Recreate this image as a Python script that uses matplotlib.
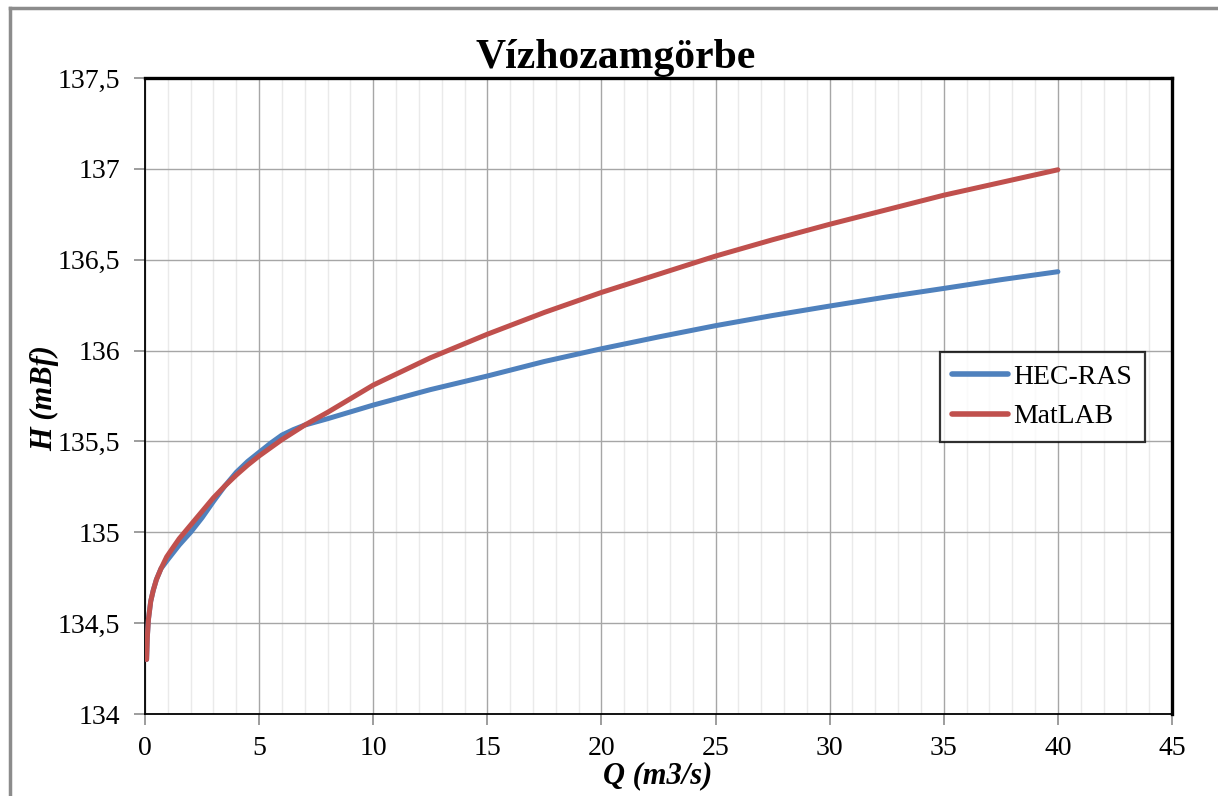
import matplotlib
matplotlib.use("Agg")
import matplotlib.pyplot as plt
from matplotlib.lines import Line2D
from matplotlib.ticker import MultipleLocator, FuncFormatter

# ---- data ----
q_matlab = [0.07, 0.1, 0.15, 0.25, 0.36, 0.5, 0.7, 0.95, 1.25, 1.5, 2, 2.5,
            3, 3.5, 4, 4.5, 5, 5.5, 6, 6.5, 7, 8, 9, 10, 11, 12.5, 15, 17.5,
            20, 22.5, 25, 27.5, 30, 32.5, 35, 37.5, 40]
h_matlab = [134.30, 134.42, 134.52, 134.62, 134.68, 134.74, 134.80, 134.865,
            134.92, 134.965, 135.04, 135.115, 135.19, 135.255, 135.315,
            135.37, 135.42, 135.465, 135.51, 135.55, 135.59, 135.66, 135.735,
            135.81, 135.87, 135.96, 136.09, 136.21, 136.32, 136.42, 136.52,
            136.61, 136.695, 136.775, 136.855, 136.925, 136.995]

q_hecras = [0.07, 0.1, 0.15, 0.25, 0.36, 0.5, 0.7, 1.0, 1.5, 2, 2.5, 3, 3.5,
            4, 4.5, 5, 5.5, 6, 6.5, 7, 8, 10, 12.5, 15, 17.5, 20, 22.5, 25,
            27.5, 30, 32.5, 35, 37.5, 40]
h_hecras = [134.30, 134.42, 134.52, 134.62, 134.68, 134.74, 134.80, 134.85,
            134.93, 135.00, 135.08, 135.17, 135.255, 135.33, 135.39, 135.44,
            135.49, 135.535, 135.565, 135.59, 135.625, 135.70, 135.785,
            135.86, 135.94, 136.01, 136.075, 136.137, 136.193, 136.245,
            136.295, 136.342, 136.39, 136.434]

series_names = ["HEC-RAS", "MatLAB"]
title_text = "Vízhozamgörbe"
x_label = "Q (m3/s)"
y_label = "H (mBf)"

BLUE = "#4F81BD"
RED = "#C0504D"
SERIF = ["Liberation Serif", "DejaVu Serif"]

W, H = 1218, 796
fig = plt.figure(figsize=(W / 100, H / 100), dpi=100)
ax = fig.add_axes([145 / W, 1 - 714 / H, (1172 - 145) / W, (714 - 78) / H])

ax.plot(q_hecras, h_hecras, color=BLUE, lw=3.6, label=series_names[0],
        solid_capstyle="round", solid_joinstyle="round", zorder=3)
ax.plot(q_matlab, h_matlab, color=RED, lw=3.6, label=series_names[1],
        solid_capstyle="round", solid_joinstyle="round", zorder=4)

ax.set_xlim(0, 45)
ax.set_ylim(134, 137.5)
ax.xaxis.set_major_locator(MultipleLocator(5))
ax.xaxis.set_minor_locator(MultipleLocator(1))
ax.yaxis.set_major_locator(MultipleLocator(0.5))

def yfmt(v, pos):
    s = ("%.1f" % v)
    if s.endswith(".0"):
        s = s[:-2]
    return s.replace(".", ",")

ax.yaxis.set_major_formatter(FuncFormatter(yfmt))

ax.grid(which="major", color="#A6A6A6", lw=1.0, zorder=0)
ax.grid(which="minor", axis="x", color="#EAEAEA", lw=1.0, zorder=0)
ax.set_axisbelow(True)

ax.tick_params(which="major", direction="out", length=8, width=1.2,
               color="#8C8C8C", labelsize=20, pad=8)
ax.tick_params(which="minor", length=0)
ax.tick_params(axis="y", pad=10)
for lab in ax.get_xticklabels() + ax.get_yticklabels():
    lab.set_family(SERIF)

for side in ["left", "bottom"]:
    ax.spines[side].set_color("black")
    ax.spines[side].set_linewidth(1.3)
for side in ["top", "right"]:
    ax.spines[side].set_color("black")
    ax.spines[side].set_linewidth(2.4)

leg = ax.legend(loc="upper left", bbox_to_anchor=(940 / W, 1 - 352 / H),
                bbox_transform=fig.transFigure, borderaxespad=0,
                frameon=True, fancybox=False, edgecolor="black",
                prop={"family": SERIF, "size": 20},
                handlelength=2.0, handletextpad=0.2, labelspacing=0.5,
                borderpad=0.45)
leg.get_frame().set_linewidth(1.6)
for lh in leg.get_lines():
    lh.set_linewidth(4.0)

fig.text(616 / W, 1 - 68 / H, title_text, ha="center", va="baseline",
         family=SERIF, fontsize=30, fontweight="bold")
fig.text(658 / W, 1 - 776 / H, x_label, ha="center", va="center",
         family=SERIF, fontsize=22, fontweight="bold", style="italic")
fig.text(45 / W, 1 - 398 / H, y_label, ha="center", va="center",
         rotation=90, family=SERIF, fontsize=22, fontweight="bold",
         style="italic")

# outer chart-area border (left and top edges visible)
fig.add_artist(Line2D([10 / W, 10 / W], [0, 1 - 8 / H], transform=fig.transFigure,
                      color="#8C8C8C", lw=2.5))
fig.add_artist(Line2D([10 / W, 1], [1 - 8 / H, 1 - 8 / H], transform=fig.transFigure,
                      color="#8C8C8C", lw=2.5))

fig.savefig("out.png", dpi=100)
